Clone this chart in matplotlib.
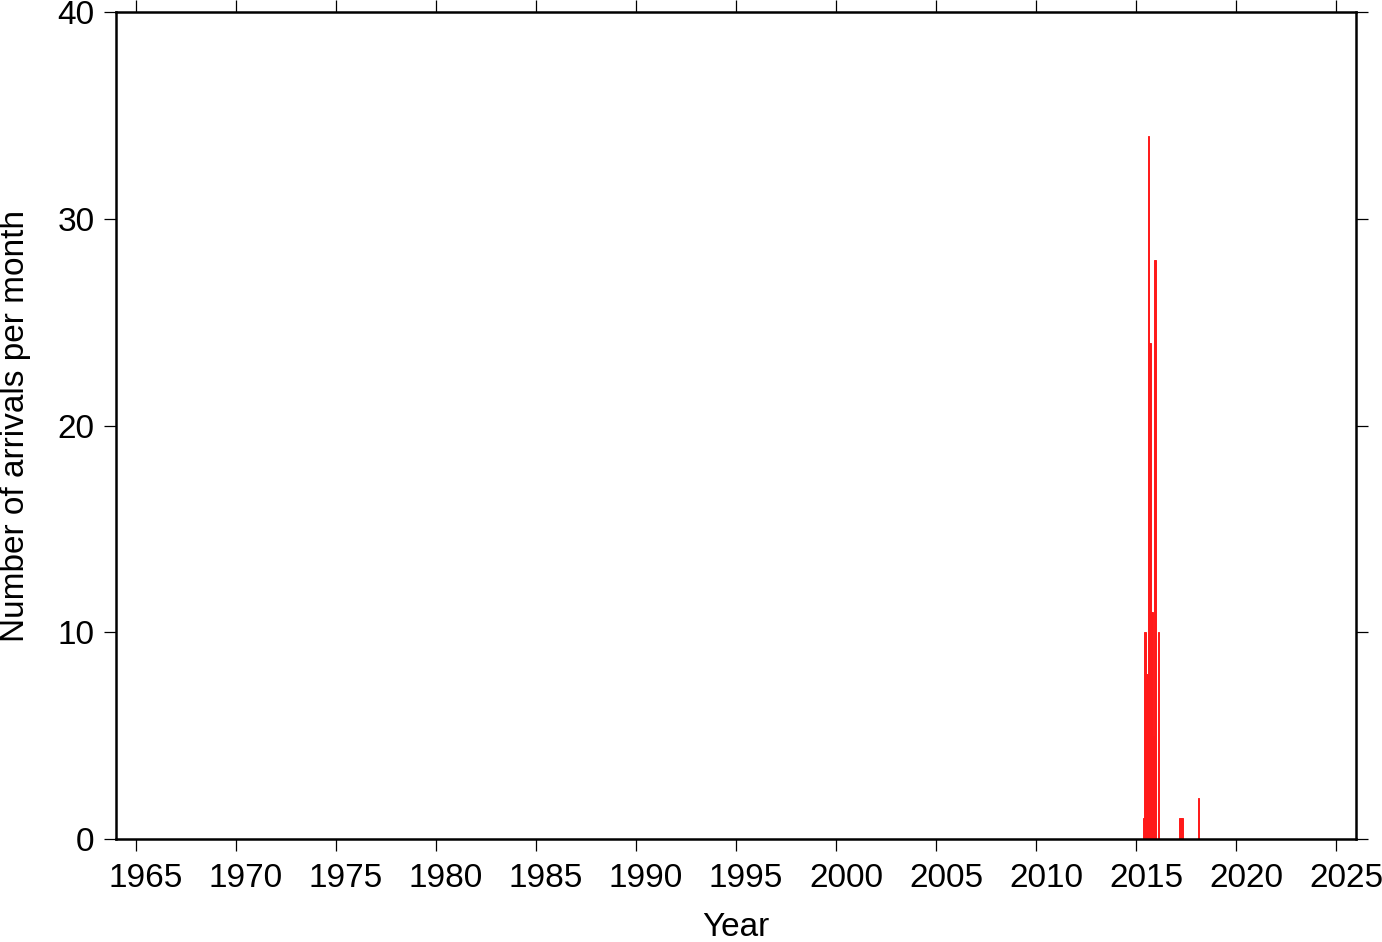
import matplotlib
matplotlib.use("Agg")
import matplotlib.pyplot as plt
import matplotlib.transforms as mtransforms
import numpy as np

plt.rcParams["font.family"] = ["Liberation Sans", "DejaVu Sans"]

# monthly arrival counts (only non-zero months)
months = ["2015-05", "2015-06", "2015-07", "2015-08", "2015-09", "2015-10",
          "2015-11", "2015-12", "2016-02", "2017-03", "2017-04", "2018-02"]
counts = [1, 10, 8, 34, 24, 11, 5, 28, 10, 1, 1, 2]

x_ticks = list(range(1965, 2030, 5))
y_ticks = [0, 10, 20, 30, 40]

# decimal year for the start of each month
starts = np.array([int(m[:4]) + (int(m[5:]) - 1) / 12 for m in months])

fig = plt.figure(figsize=(13.82, 9.42), dpi=100)
ax = fig.add_axes([116 / 1382, 1 - 839 / 942, 1240 / 1382, 827 / 942])

ax.bar(starts, counts, width=1 / 12, align="edge", color="#ff1a1a",
       edgecolor="#ff1a1a", linewidth=0.7)

ax.set_xlim(1964, 2026)
ax.set_ylim(0, 40)
ax.set_xticks(x_ticks)
ax.set_yticks(y_ticks)

for sp in ax.spines.values():
    sp.set_linewidth(1.8)

ax.tick_params(axis="both", direction="out", length=8.6, width=0.9,
               labelsize=24, top=True, right=True, pad=7)
ax.tick_params(axis="x", pad=9)

# year labels sit a little right of their ticks
shift = mtransforms.ScaledTranslation(10 / 100, 0, fig.dpi_scale_trans)
for lab in ax.get_xticklabels():
    lab.set_transform(lab.get_transform() + shift)

ax.set_xlabel("Year", fontsize=24, labelpad=13)
ax.set_ylabel("Number of arrivals per month", fontsize=24, labelpad=19)

fig.savefig("out.png", dpi=100)
